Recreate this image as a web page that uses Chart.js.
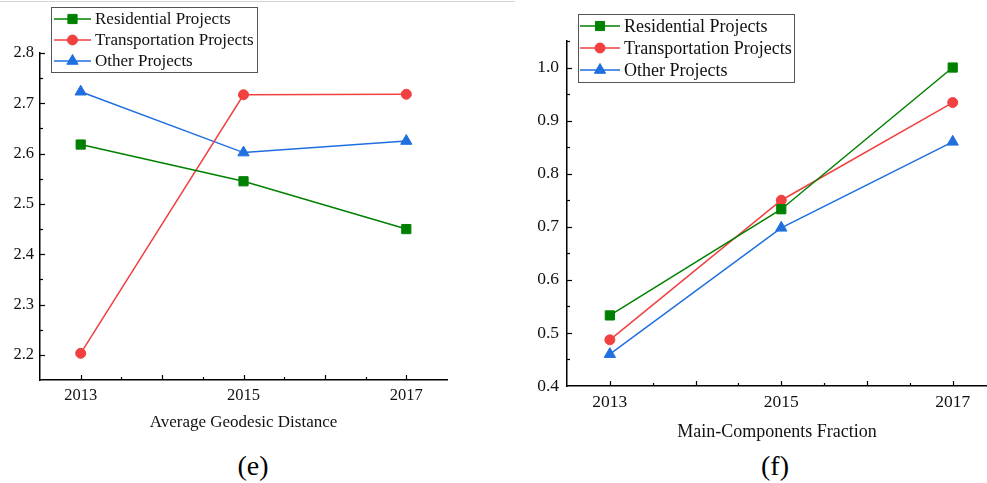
<!DOCTYPE html>
<html>
<head>
<meta charset="utf-8">
<script src="https://cdn.jsdelivr.net/npm/chart.js@4.4.0/dist/chart.umd.min.js"></script>
<style>
  body { margin: 0; background: #fff; width: 987px; height: 483px; position: relative; overflow: hidden; font-family: 'Liberation Serif', 'Times New Roman', serif; }
  .topRule { position: absolute; left: 0; top: 1px; width: 515px; height: 1px; background: #d4d4d4; }
  canvas { position: absolute; top: 0; }
  #geoChart { left: 0; }
  #mainChart { left: 520px; }
  .caption { position: absolute; top: 450px; width: 80px; line-height: 32px; text-align: center; font-size: 28px; color: #000; }
</style>
</head>
<body>
<div class="topRule"></div>
<canvas id="geoChart" width="460" height="440"></canvas>
<!-- a few px wider than the page: the point overflow margin falls off the right edge -->
<canvas id="mainChart" width="475" height="450"></canvas>
<div class="caption" style="left:213px">(e)</div>
<div class="caption" style="left:735px">(f)</div>
<script>
const years = [2013, 2015, 2017];
const xTickLabels = [2013, 2015, 2017];
const seriesNames = ['Residential Projects', 'Transportation Projects', 'Other Projects'];

// (e) average geodesic distance
const geoResidential = [2.618, 2.545, 2.450];
const geoTransport = [2.203, 2.717, 2.718];
const geoOther = [2.723, 2.602, 2.625];
const geoTicks = [2.2, 2.3, 2.4, 2.5, 2.6, 2.7, 2.8];

// (f) main-components fraction
const mainResidential = [0.533, 0.733, 1.000];
const mainTransport = [0.487, 0.750, 0.934];
const mainOther = [0.460, 0.698, 0.860];
const mainTicks = [0.4, 0.5, 0.6, 0.7, 0.8, 0.9, 1.0];

const serif = "'Liberation Serif', 'Times New Roman', serif";
const colors = ['rgb(0,128,0)', 'rgb(240,64,64)', 'rgb(31,111,224)'];
const markers = ['rect', 'circle', 'triangle'];
const markerSize = [6.5, 5, 6.5];

const toPoints = vals => years.map((yr, i) => ({x: yr, y: vals[i]}));
const isLabelled = (list, v) => list.some(t => Math.abs(t - v) < 1e-6);

const makeDatasets = groups => groups.map((vals, i) => ({
    label: seriesNames[i],
    data: toPoints(vals),
    borderColor: colors[i],
    backgroundColor: colors[i],
    borderWidth: 1.5,
    pointStyle: markers[i],
    pointRadius: markerSize[i],
    pointBorderWidth: 1,
    pointBorderColor: colors[i],
    pointBackgroundColor: colors[i],
    tension: 0
}));

// tick marks pointing into the plot, longer on the labelled steps
const innerTicks = {
    id: 'innerTicks',
    afterDraw(chart, args, o) {
        const ctx = chart.ctx;
        const {left, bottom} = chart.chartArea;
        const xs = chart.scales.x, ys = chart.scales.y;
        ctx.save();
        ctx.strokeStyle = '#000';
        ctx.lineWidth = 1.2;
        xs.ticks.forEach(t => {
            if (t.value <= xs.min + 1e-6 || t.value >= xs.max - 1e-6) return;
            const px = Math.round(xs.getPixelForValue(t.value)) + 0.5;
            const len = Number.isInteger(t.value) ? 5 : 3;
            ctx.beginPath(); ctx.moveTo(px, bottom); ctx.lineTo(px, bottom - len); ctx.stroke();
        });
        ys.ticks.forEach(t => {
            if (t.value <= ys.min + 1e-6) return;
            const py = Math.round(ys.getPixelForValue(t.value)) + 0.5;
            const len = isLabelled(o.labels, t.value) ? 5 : 3;
            ctx.beginPath(); ctx.moveTo(left, py); ctx.lineTo(left + len, py); ctx.stroke();
        });
        ctx.restore();
    }
};

// framed legend drawn over the plot
const boxLegend = {
    id: 'boxLegend',
    afterDraw(chart, args, o) {
        const ctx = chart.ctx;
        ctx.save();
        ctx.fillStyle = '#fff';
        ctx.fillRect(o.left, o.top, o.width, o.height);
        ctx.strokeStyle = '#555';
        ctx.lineWidth = 1;
        ctx.strokeRect(o.left + 0.5, o.top + 0.5, o.width, o.height);
        ctx.font = o.fontSize + 'px ' + serif;
        ctx.textBaseline = 'middle';
        chart.data.datasets.forEach((ds, i) => {
            const y = o.top + o.firstRow + i * o.rowGap;
            ctx.strokeStyle = ds.borderColor;
            ctx.fillStyle = ds.pointBackgroundColor;
            ctx.lineWidth = ds.borderWidth;
            ctx.beginPath(); ctx.moveTo(o.lineX0, y); ctx.lineTo(o.lineX1, y); ctx.stroke();
            ctx.lineWidth = 1;
            Chart.helpers.drawPoint(ctx, {pointStyle: ds.pointStyle, radius: ds.pointRadius, borderWidth: 1, rotation: 0}, (o.lineX0 + o.lineX1) / 2, y);
            ctx.fillStyle = '#111';
            ctx.fillText(ds.label, o.textX, y + 1);
        });
        ctx.restore();
    }
};

const axisBorder = {display: true, color: '#000', width: 1.5};

function buildChart(id, datasets, o) {
    return new Chart(document.getElementById(id), {
        type: 'line',
        data: {datasets},
        plugins: [innerTicks, boxLegend],
        options: {
            responsive: false,
            animation: false,
            layout: {padding: o.padding},
            plugins: {
                legend: {display: false},
                tooltip: {enabled: false},
                innerTicks: {labels: o.yLabels},
                boxLegend: o.legend
            },
            scales: {
                x: {
                    type: 'linear',
                    min: 2012.5,
                    max: o.xMax,
                    border: axisBorder,
                    grid: {drawOnChartArea: false, drawTicks: false},
                    ticks: {
                        stepSize: 0.5, autoSkip: false, includeBounds: false, maxRotation: 0,
                        padding: o.xPad, color: '#111',
                        font: {family: serif, size: o.tickFont},
                        callback: v => xTickLabels.includes(v) ? String(v) : ''
                    },
                    title: {
                        display: true, text: o.xTitle, color: '#111',
                        font: {family: serif, size: o.titleFont},
                        padding: {top: 0, bottom: o.titlePad}
                    },
                    afterFit: s => { s.height = o.xHeight; }
                },
                y: {
                    type: 'linear',
                    min: o.yMin,
                    max: o.yMax,
                    border: axisBorder,
                    grid: {drawOnChartArea: false, drawTicks: false},
                    ticks: {
                        stepSize: 0.05, autoSkip: false,
                        padding: o.yPad, color: '#111',
                        font: {family: serif, size: o.tickFont},
                        callback: v => isLabelled(o.yLabels, v) ? v.toFixed(1) : ''
                    },
                    afterFit: s => { s.width = o.yWidth; }
                }
            }
        }
    });
}

buildChart('geoChart', makeDatasets([geoResidential, geoTransport, geoOther]), {
    padding: {top: 53, right: 13, bottom: 0, left: 0},
    xMax: 2017.5, yMin: 2.15, yMax: 2.8, yLabels: geoTicks,
    xTitle: 'Average Geodesic Distance',
    tickFont: 16.5, titleFont: 17, xPad: 6, yPad: 6, titlePad: 7,
    xHeight: 60, yWidth: 40,
    legend: {left: 51, top: 7, width: 206, height: 65, firstRow: 12, rowGap: 21, lineX0: 54, lineX1: 91, textX: 95, fontSize: 17}
});

buildChart('mainChart', makeDatasets([mainResidential, mainTransport, mainOther]), {
    padding: {top: 41, right: 8, bottom: 0, left: 0},
    xMax: 2017.4, yMin: 0.4, yMax: 1.05, yLabels: mainTicks,
    xTitle: 'Main-Components Fraction',
    tickFont: 17.5, titleFont: 18, xPad: 6, yPad: 8, titlePad: 7,
    xHeight: 64, yWidth: 47,
    legend: {left: 58, top: 14, width: 216, height: 68, firstRow: 12, rowGap: 22, lineX0: 60, lineX1: 100, textX: 104, fontSize: 18}
});
</script>
</body>
</html>
